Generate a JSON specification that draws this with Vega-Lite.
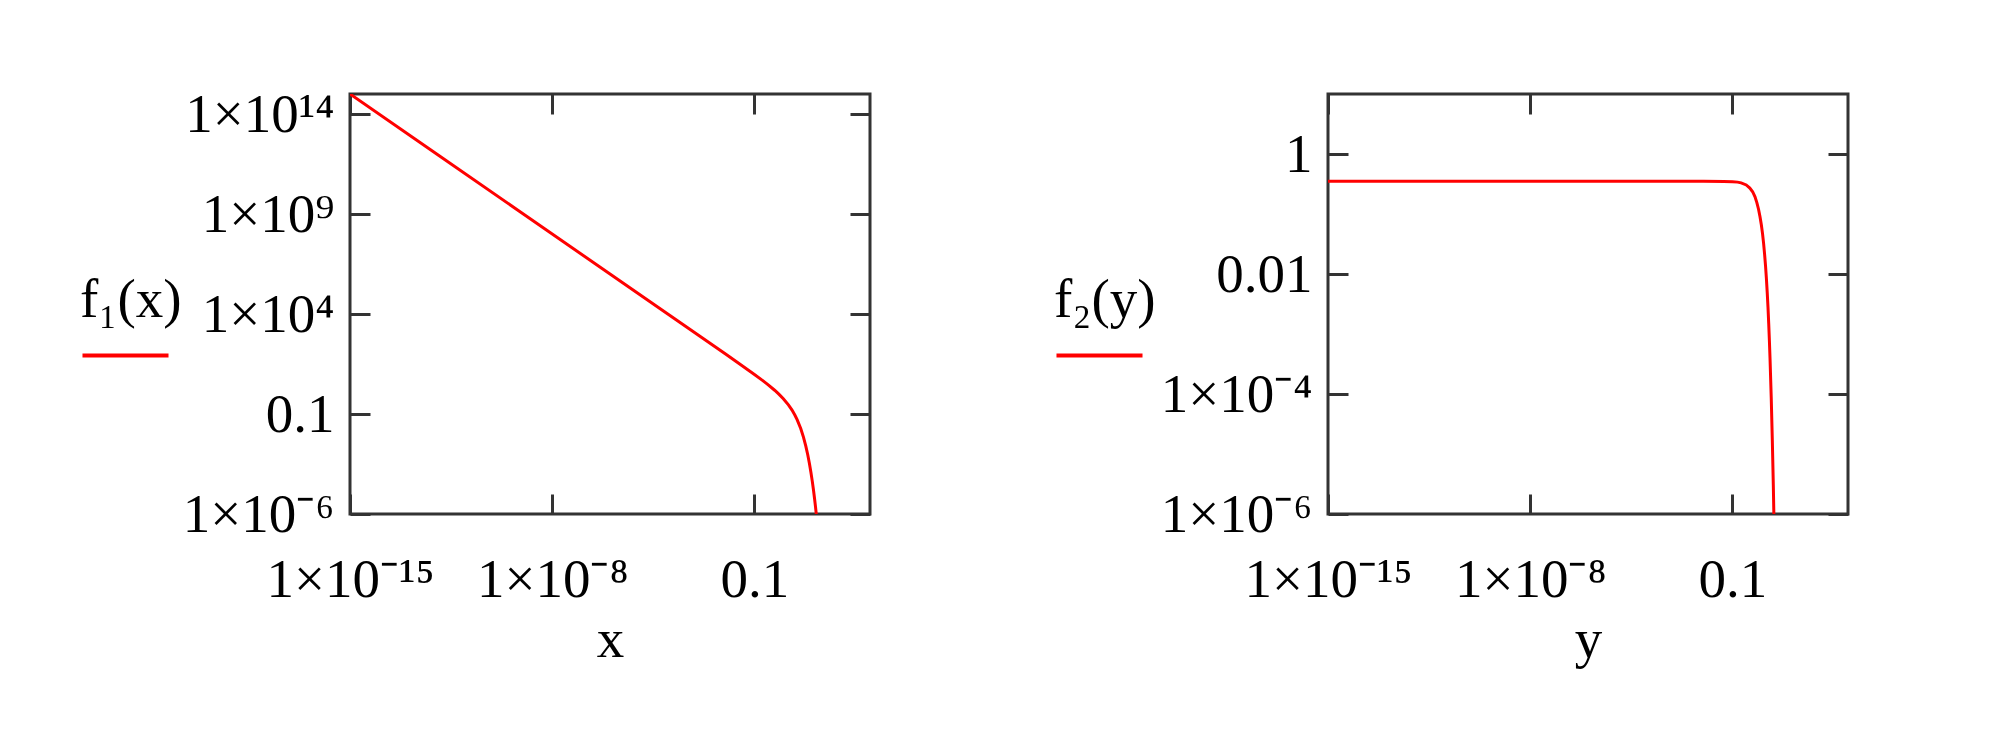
{
  "$schema": "https://vega.github.io/schema/vega-lite/v6.json",
  "background": "white",
  "padding": {"left": 78, "top": 85, "right": 10, "bottom": 10},
  "config": {
    "view": {"stroke": "#333333", "strokeWidth": 3},
    "font": "Liberation Serif",
    "axis": {
      "labelFont": "Liberation Serif", "labelFontSize": 55, "labelColor": "#000000",
      "titleFont": "Liberation Serif", "titleFontSize": 55, "titleFontWeight": "normal", "titleColor": "#000000",
      "grid": false, "domain": false, "tickColor": "#333333", "tickWidth": 3, "tickSize": -20,
      "labelFlush": false, "labelOverlap": false, "labelBound": false
    },
    "legend": {
      "titleFont": "Liberation Serif", "titleFontSize": 55, "titleFontWeight": "normal", "titleColor": "#000000",
      "labelFontSize": 1, "padding": 0
    }
  },
  "bounds": "flush",
  "spacing": 458,
  "resolve": {"scale": {"color": "independent"}, "legend": {"color": "independent"}},
  "hconcat": [
    {
      "width": 520, "height": 420,
      "data": {"values": [
        {"x": 1e-15, "f": 1e15}, {"x": 1e-12, "f": 1e12}, {"x": 1e-9, "f": 1e9}, {"x": 1e-6, "f": 1e6},
        {"x": 1e-4, "f": 9999.5}, {"x": 1e-3, "f": 999.5}, {"x": 0.01, "f": 99.5}, {"x": 0.03, "f": 32.8},
        {"x": 0.1, "f": 9.51}, {"x": 0.2, "f": 4.52}, {"x": 0.3, "f": 2.86}, {"x": 0.5, "f": 1.54},
        {"x": 0.7, "f": 0.986}, {"x": 1, "f": 0.582}, {"x": 1.5, "f": 0.287}, {"x": 2, "f": 0.157},
        {"x": 2.5, "f": 0.0895}, {"x": 3, "f": 0.0524}, {"x": 4, "f": 0.0187}, {"x": 5, "f": 0.00678},
        {"x": 6, "f": 0.00248}, {"x": 7, "f": 0.000913}, {"x": 8, "f": 0.000336}, {"x": 9, "f": 0.000123},
        {"x": 10, "f": 4.54e-5}, {"x": 11, "f": 1.67e-5}, {"x": 12, "f": 6.14e-6}, {"x": 13, "f": 2.26e-6},
        {"x": 14, "f": 8.32e-7}
      ]},
      "layer": [
        {
          "mark": {"type": "line", "strokeWidth": 3, "clip": true},
          "encoding": {
            "x": {"field": "x", "type": "quantitative",
              "scale": {"type": "log", "domain": [1e-15, 1000], "nice": false},
              "axis": {"orient": "bottom", "values": [1e-15, 1e-8, 0.1],
                "labelExpr": "datum.value < 1e-10 ? '1×10⁻¹⁵' : datum.value < 1e-3 ? '1×10⁻⁸' : '0.1'",
                "labelPadding": 59, "title": "x", "titlePadding": 6}},
            "y": {"field": "f", "type": "quantitative",
              "scale": {"type": "log", "domain": [1e-6, 1e15], "nice": false},
              "axis": {"orient": "left", "values": [1e14, 1e9, 1e4, 0.1, 1e-6],
                "labelExpr": "datum.value > 1e12 ? '1×10¹⁴' : datum.value > 1e7 ? '1×10⁹' : datum.value > 100 ? '1×10⁴' : datum.value > 1e-3 ? '0.1' : '1×10⁻⁶'",
                "labelPadding": 36, "title": null}},
            "color": {"datum": "f₁(x)", "scale": {"range": ["#ff0000"]},
              "legend": {"orient": "none", "legendX": -270, "legendY": 180, "title": "f₁(x)",
                "labelExpr": "''", "symbolType": "stroke", "symbolSize": 7400, "symbolStrokeWidth": 4,
                "titlePadding": -19}}
          }
        },
        {
          "mark": {"type": "line", "strokeOpacity": 0, "clip": true},
          "encoding": {
            "x": {"field": "x", "type": "quantitative",
              "scale": {"type": "log", "domain": [1e-15, 1000], "nice": false},
              "axis": {"orient": "top", "values": [1e-15, 1e-8, 0.1], "labels": false, "title": null}},
            "y": {"field": "f", "type": "quantitative",
              "scale": {"type": "log", "domain": [1e-6, 1e15], "nice": false},
              "axis": {"orient": "right", "values": [1e14, 1e9, 1e4, 0.1, 1e-6], "labels": false, "title": null}}
          }
        }
      ],
      "resolve": {"axis": {"x": "independent", "y": "independent"}}
    },
    {
      "width": 520, "height": 420,
      "data": {"values": [
        {"y": 1e-15, "f": 0.35}, {"y": 1e-10, "f": 0.35}, {"y": 1e-5, "f": 0.35}, {"y": 1e-3, "f": 0.35},
        {"y": 0.01, "f": 0.35}, {"y": 0.05, "f": 0.349}, {"y": 0.1, "f": 0.346}, {"y": 0.15, "f": 0.34},
        {"y": 0.2, "f": 0.33}, {"y": 0.3, "f": 0.305}, {"y": 0.4, "f": 0.27}, {"y": 0.5, "f": 0.235},
        {"y": 0.6, "f": 0.195}, {"y": 0.7, "f": 0.155}, {"y": 0.8, "f": 0.12}, {"y": 0.9, "f": 0.09},
        {"y": 1.0, "f": 0.066}, {"y": 1.1, "f": 0.047}, {"y": 1.2, "f": 0.032}, {"y": 1.3, "f": 0.021},
        {"y": 1.4, "f": 0.0135}, {"y": 1.5, "f": 0.0083}, {"y": 1.6, "f": 0.0049}, {"y": 1.7, "f": 0.0028},
        {"y": 1.8, "f": 0.0015}, {"y": 1.9, "f": 0.00078}, {"y": 2.0, "f": 0.00039}, {"y": 2.2, "f": 0.000088},
        {"y": 2.4, "f": 1.7e-5}, {"y": 2.6, "f": 3.0e-6}, {"y": 2.8, "f": 4.5e-7}
      ]},
      "layer": [
        {
          "mark": {"type": "line", "strokeWidth": 3, "clip": true},
          "encoding": {
            "x": {"field": "y", "type": "quantitative",
              "scale": {"type": "log", "domain": [1e-15, 1000], "nice": false},
              "axis": {"orient": "bottom", "values": [1e-15, 1e-8, 0.1],
                "labelExpr": "datum.value < 1e-10 ? '1×10⁻¹⁵' : datum.value < 1e-3 ? '1×10⁻⁸' : '0.1'",
                "labelPadding": 59, "title": "y", "titlePadding": 6}},
            "y": {"field": "f", "type": "quantitative",
              "scale": {"type": "log", "domain": [1e-6, 10], "nice": false},
              "axis": {"orient": "left", "values": [1, 0.01, 1e-4, 1e-6],
                "labelExpr": "datum.value > 0.5 ? '1' : datum.value > 1e-3 ? '0.01' : datum.value > 1e-5 ? '1×10⁻⁴' : '1×10⁻⁶'",
                "labelPadding": 36, "title": null}},
            "color": {"datum": "f₂(y)", "scale": {"range": ["#ff0000"]},
              "legend": {"orient": "none", "legendX": -274, "legendY": 180, "title": "f₂(y)",
                "labelExpr": "''", "symbolType": "stroke", "symbolSize": 7400, "symbolStrokeWidth": 4,
                "titlePadding": -19}}
          }
        },
        {
          "mark": {"type": "line", "strokeOpacity": 0, "clip": true},
          "encoding": {
            "x": {"field": "y", "type": "quantitative",
              "scale": {"type": "log", "domain": [1e-15, 1000], "nice": false},
              "axis": {"orient": "top", "values": [1e-15, 1e-8, 0.1], "labels": false, "title": null}},
            "y": {"field": "f", "type": "quantitative",
              "scale": {"type": "log", "domain": [1e-6, 10], "nice": false},
              "axis": {"orient": "right", "values": [1, 0.01, 1e-4, 1e-6], "labels": false, "title": null}}
          }
        }
      ],
      "resolve": {"axis": {"x": "independent", "y": "independent"}}
    }
  ]
}
